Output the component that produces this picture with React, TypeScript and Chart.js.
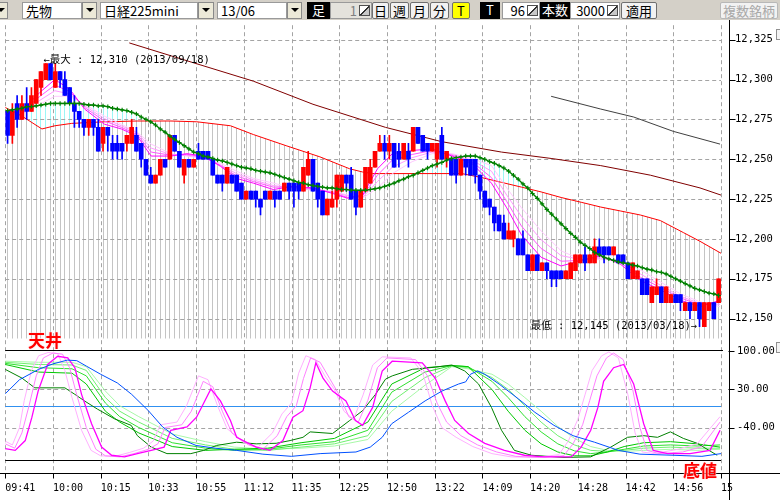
import React, { useEffect, useRef } from "react";
import { Chart, registerables } from "chart.js";

Chart.register(...registerables);

// ---------------- data ----------------
const timeLabels = ["09:41", "10:00", "10:15", "10:33", "10:55", "11:12", "11:35", "12:25", "12:50", "13:22", "14:09", "14:20", "14:28", "14:42", "14:56", "15"];
const tickBars = [0, 10, 20, 30, 40, 50, 60, 70, 80, 90, 100, 110, 120, 130, 140, 150];
const priceTicks = [12150, 12175, 12200, 12225, 12250, 12275, 12300, 12325];
const oscTicks = [100, 30, -40];
const oscGrid = [30, -40];
const priceMin = 12053.1;
const priceMax = 12334.12;
const oscMin = -123.64;
const oscMax = 700;
const hatchFloor = 12137.5;
const oscTop = 100;
const oscBottom = -100;

const maxBar = 8;
const maxPrice = 12310;
const maxText = "←最大 : 12,310 (2013/09/18)";
const minBar = 145;
const minPrice = 12145;
const minText = "最低 : 12,145 (2013/03/18)→";

const opens = [
  12280, 12265, 12285, 12275, 12285, 12280, 12285, 12295, 12300, 12310,
  12295, 12305, 12300, 12295, 12285, 12280, 12275, 12270, 12275, 12270,
  12260, 12270, 12260, 12260, 12260, 12260, 12260, 12265, 12260, 12250,
  12240, 12235, 12240, 12250, 12250, 12265, 12255, 12240, 12250, 12245,
  12255, 12255, 12255, 12250, 12240, 12240, 12235, 12240, 12240, 12235,
  12225, 12230, 12230, 12225, 12230, 12225, 12230, 12230, 12230, 12235,
  12235, 12235, 12230, 12240, 12250, 12235, 12230, 12215, 12220, 12225,
  12230, 12240, 12240, 12230, 12220, 12230, 12235, 12245, 12255, 12260,
  12255, 12260, 12255, 12250, 12255, 12255, 12270, 12265, 12260, 12255,
  12250, 12265, 12250, 12250, 12250, 12240, 12250, 12250, 12250, 12240,
  12230, 12225, 12220, 12215, 12210, 12200, 12200, 12200, 12200, 12190,
  12180, 12190, 12180, 12185, 12180, 12180, 12180, 12175, 12175, 12180,
  12185, 12190, 12185, 12185, 12195, 12195, 12195, 12190, 12190, 12190,
  12185, 12175, 12175, 12175, 12175, 12160, 12165, 12170, 12160, 12160,
  12165, 12165, 12155, 12160, 12155, 12160, 12145, 12155, 12160, 12160,
];
const highs = [
  12280, 12285, 12290, 12290, 12295, 12295, 12300, 12305, 12310, 12310,
  12310, 12305, 12305, 12295, 12290, 12280, 12275, 12275, 12275, 12275,
  12270, 12270, 12265, 12265, 12260, 12265, 12275, 12270, 12260, 12250,
  12245, 12240, 12250, 12250, 12265, 12265, 12255, 12250, 12250, 12250,
  12260, 12255, 12255, 12250, 12240, 12240, 12245, 12240, 12240, 12235,
  12230, 12230, 12230, 12225, 12230, 12230, 12230, 12230, 12235, 12235,
  12235, 12235, 12245, 12255, 12250, 12235, 12230, 12225, 12230, 12240,
  12240, 12240, 12245, 12230, 12230, 12245, 12250, 12255, 12265, 12265,
  12265, 12260, 12260, 12260, 12260, 12270, 12270, 12265, 12260, 12260,
  12260, 12270, 12255, 12250, 12250, 12250, 12250, 12250, 12250, 12240,
  12230, 12225, 12220, 12215, 12215, 12210, 12205, 12200, 12205, 12190,
  12190, 12190, 12185, 12185, 12180, 12180, 12180, 12180, 12185, 12190,
  12190, 12195, 12190, 12200, 12200, 12195, 12195, 12195, 12190, 12190,
  12185, 12185, 12180, 12175, 12175, 12170, 12175, 12170, 12170, 12165,
  12165, 12165, 12160, 12160, 12160, 12160, 12160, 12160, 12160, 12175,
];
const lows = [
  12260, 12260, 12270, 12275, 12275, 12280, 12285, 12290, 12300, 12300,
  12295, 12295, 12290, 12285, 12270, 12270, 12265, 12265, 12265, 12255,
  12255, 12255, 12250, 12250, 12250, 12255, 12260, 12255, 12245, 12240,
  12235, 12235, 12240, 12245, 12250, 12255, 12245, 12235, 12245, 12245,
  12250, 12250, 12250, 12240, 12235, 12230, 12235, 12235, 12230, 12225,
  12225, 12225, 12220, 12215, 12225, 12225, 12220, 12225, 12230, 12225,
  12220, 12225, 12230, 12240, 12230, 12220, 12215, 12215, 12220, 12220,
  12230, 12230, 12225, 12215, 12220, 12230, 12235, 12245, 12255, 12250,
  12250, 12245, 12245, 12250, 12245, 12255, 12260, 12255, 12250, 12255,
  12245, 12250, 12245, 12240, 12235, 12240, 12240, 12240, 12235, 12225,
  12220, 12215, 12205, 12205, 12200, 12200, 12195, 12190, 12190, 12180,
  12180, 12180, 12180, 12175, 12170, 12170, 12175, 12175, 12175, 12180,
  12185, 12180, 12185, 12185, 12190, 12185, 12190, 12190, 12185, 12185,
  12175, 12175, 12175, 12165, 12165, 12160, 12165, 12160, 12160, 12160,
  12160, 12155, 12155, 12150, 12155, 12145, 12145, 12155, 12150, 12160,
];
const closes = [
  12265, 12280, 12275, 12285, 12280, 12290, 12300, 12305, 12310, 12300,
  12305, 12300, 12290, 12285, 12280, 12275, 12270, 12275, 12270, 12255,
  12270, 12265, 12255, 12255, 12255, 12265, 12270, 12255, 12250, 12240,
  12235, 12240, 12250, 12245, 12265, 12255, 12245, 12250, 12245, 12250,
  12250, 12250, 12250, 12240, 12235, 12235, 12245, 12235, 12230, 12225,
  12230, 12225, 12225, 12220, 12225, 12230, 12225, 12225, 12235, 12230,
  12230, 12230, 12245, 12250, 12230, 12225, 12215, 12225, 12225, 12240,
  12240, 12235, 12225, 12220, 12230, 12245, 12245, 12255, 12260, 12255,
  12260, 12245, 12250, 12260, 12250, 12270, 12260, 12255, 12255, 12260,
  12260, 12250, 12255, 12240, 12240, 12250, 12245, 12240, 12240, 12230,
  12220, 12220, 12210, 12205, 12200, 12205, 12205, 12190, 12190, 12180,
  12190, 12180, 12185, 12180, 12175, 12175, 12175, 12180, 12185, 12190,
  12190, 12185, 12190, 12195, 12190, 12190, 12190, 12195, 12185, 12185,
  12175, 12185, 12180, 12165, 12165, 12170, 12170, 12160, 12170, 12165,
  12160, 12160, 12160, 12155, 12160, 12150, 12160, 12160, 12150, 12175,
];

// medium moving average (green, "+" marks), one value per bar
const greenMA = [
  12280.5, 12281, 12281.5, 12282, 12283, 12283, 12283.5, 12284, 12284.5, 12285,
  12285, 12285, 12285, 12285, 12285, 12285, 12284.5, 12284, 12284, 12283.5,
  12283.5, 12283, 12282, 12281.5, 12281, 12280.5, 12279.5, 12278.5, 12276.5, 12275,
  12273.5, 12271.5, 12269, 12267, 12264.5, 12262.5, 12260.5, 12258.5, 12256.5, 12254.5,
  12253.5, 12252, 12251.5, 12250.5, 12249.5, 12249, 12248, 12247, 12246, 12245,
  12244.5, 12244, 12243, 12242.5, 12242, 12241.5, 12240.5, 12239.5, 12238.5, 12237.5,
  12236.5, 12235.5, 12235, 12234, 12233.5, 12233, 12232.5, 12232, 12232, 12231.5,
  12231, 12231, 12230.5, 12230.5, 12230.5, 12230.5, 12231, 12231.5, 12232, 12233,
  12234, 12235, 12236.5, 12237.5, 12239, 12240, 12241.5, 12243, 12244.5, 12246,
  12247, 12248, 12249.5, 12250.5, 12251, 12251.5, 12252, 12252, 12252, 12251,
  12250, 12248.5, 12247.5, 12246, 12244.5, 12242.5, 12240, 12237.5, 12234.5, 12232,
  12228.5, 12225.5, 12222, 12218.5, 12215.5, 12212.5, 12209.5, 12206.5, 12203.5, 12201,
  12198, 12196, 12194, 12191.5, 12190, 12188.5, 12187.5, 12186.5, 12185.5, 12185,
  12184.5, 12183.5, 12183, 12182, 12181, 12180.5, 12179.5, 12179, 12178, 12176.5,
  12175, 12173.5, 12172, 12170.5, 12169, 12168, 12167, 12166, 12165.5, 12164.5,
];

// longer moving average (red)
const redX = [0, 3.54, 7.7, 10.4, 13.94, 20.8, 27.67, 34.74, 40.15, 47.22, 52, 58.87, 65.95, 72.19, 74.89, 76.97, 95.69, 99.85, 104, 108.2, 112.3, 116.5, 120.7, 124.8, 129, 133.1, 137.3, 142.1, 145.6, 150];
const redMA = [12282.5, 12277, 12269, 12271, 12272.5, 12273.5, 12274, 12274, 12273.5, 12271, 12265.5, 12258.5, 12251.5, 12244, 12242, 12241, 12241, 12238.5, 12235.5, 12232.5, 12229.5, 12226, 12223, 12220, 12217.5, 12215, 12211.5, 12204, 12198.5, 12191];

// very long averages (maroon, dark grey)
const maroonX = [26, 39.5, 52, 64.5, 79.7, 91.5, 104, 114.4, 124.8, 135.2, 145.6, 150];
const maroonMA = [12323, 12310.5, 12299, 12284.5, 12270, 12261, 12254.5, 12250.5, 12246, 12240, 12232, 12227.5];
const greyX = [114.4, 124.8, 131.7, 140, 149.8];
const greyMA = [12289.5, 12281.5, 12276.5, 12267.5, 12259.5];

// short averages (pink fan, fastest first)
const fanX = [0, 4.16, 7.28, 10.4, 13.52, 16.64, 20.8, 24.34, 27.67, 30.58, 34.74, 38.07, 41.61, 45.14, 48.47, 52.01, 56.17, 60.33, 64.49, 68.65, 71.77, 74.89, 78.01, 81.13, 85.29, 89.45, 93.61, 97.77, 101.9, 105.1, 108.2, 112.3, 116.5, 120.7, 124.8, 129, 133.1, 137.3, 141.5, 145.6, 149.8];
const fan1 = [12278.5, 12282.5, 12292, 12300, 12294, 12281.5, 12272, 12269, 12264.5, 12252, 12252, 12253.5, 12252, 12245.5, 12238, 12235, 12231, 12233, 12232, 12228.5, 12225.5, 12227.5, 12244, 12253.5, 12255.5, 12256.5, 12252, 12247.5, 12235, 12219.5, 12202.5, 12188.5, 12183, 12186.5, 12189.5, 12184, 12174, 12168, 12161.5, 12157.5, 12161.5];
const fan2 = [12278, 12281.5, 12289.5, 12296.5, 12292.5, 12282.5, 12274, 12270, 12265.5, 12254.5, 12252.5, 12253, 12251.5, 12246, 12239.5, 12236, 12232.5, 12232.5, 12231.5, 12229, 12226, 12227, 12240, 12249.5, 12253, 12255.5, 12252.5, 12248.5, 12238.5, 12223.5, 12208, 12194, 12186, 12186.5, 12189, 12185, 12176, 12169.5, 12163, 12158.5, 12160.5];
const fan3 = [12277.5, 12280.5, 12287, 12293, 12291, 12283.5, 12275.5, 12271, 12266.5, 12257, 12253, 12252.5, 12251, 12246.5, 12241, 12237, 12233.5, 12232, 12231, 12229.5, 12227, 12226, 12236, 12245, 12251, 12254.5, 12253, 12249.5, 12242.5, 12227.5, 12214, 12199.5, 12189.5, 12187, 12188, 12186, 12178, 12171, 12164, 12159.5, 12159];
const fan4 = [12277, 12279.5, 12284.5, 12289.5, 12289.5, 12284.5, 12277, 12272, 12267, 12259.5, 12253.5, 12252, 12250.5, 12247.5, 12242.5, 12238, 12235, 12232, 12230.5, 12230, 12227.5, 12225.5, 12232, 12241, 12248.5, 12253.5, 12253.5, 12250.5, 12246, 12232, 12219.5, 12205, 12192.5, 12187, 12187, 12187, 12180.5, 12173, 12165.5, 12160.5, 12157.5];

// oscillator panel: [bar, value]
const oscBlue = [[0, 22], [3, 48], [7, 67], [10, 77], [13, 84], [15, 83], [17, 73], [20, 58], [23.5, 42], [26.5, 21], [30, -9], [33, -39], [36, -58], [40, -73], [44, -78], [48.5, -82], [54, -89], [60, -93], [66, -88], [73.5, -85], [76.5, -76], [79, -58], [81, -33], [84.5, -12], [88, 9], [91.5, 27], [95, 40], [96.5, 44], [97.5, 58], [99, 64], [100.5, 58], [103.5, 40], [107.5, 13], [111, -12], [115, -36], [119, -55], [123.5, -67], [128.5, -82], [133, -89], [140, -91], [146, -93], [150, -88]];
const oscMagenta = [[0, -79], [2.1, -82], [4.2, -64], [5.6, -21], [6.9, 27], [8.9, 76], [11, 91], [13.1, 88], [14.6, 70], [16, 21], [18.1, -33], [20.2, -76], [22.3, -91], [25, -94], [27.7, -88], [30.6, -82], [33.3, -76], [34.7, -45], [38.1, -39], [40.1, -21], [43.1, 31], [45.1, 9], [47.2, -27], [48.5, -58], [52.6, -76], [55.5, -82], [58.2, -64], [60.3, -21], [62.4, -9], [63.9, 33], [65.1, 79], [66.6, 51], [68.6, 27], [71.4, 9], [73.4, -27], [74.9, -36], [77, -3], [79, 64], [81.1, 82], [87.4, 79], [90.1, 51], [92.2, 9], [94.2, -27], [97.1, -51], [100.5, -69], [104.6, -82], [108.8, -91], [113, -94], [118.6, -94], [120.7, -76], [122.7, -45], [124.2, -3], [125.4, 45], [127.5, 70], [129.6, 76], [131.7, 40], [133.8, -33], [135.8, -82], [138.8, -88], [143.5, -88], [147.7, -82], [149.8, -45]];
const oscPinkA = [[0, -70], [2, -78], [3.5, -50], [5, 0], [6.5, 55], [8, 88], [10, 97], [12, 95], [13.5, 70], [15, 20], [17, -40], [19, -80], [21, -92], [24, -94], [27, -88], [30, -80], [32, -70], [33.5, -40], [37, -35], [39, -10], [41.5, 45], [43.5, 35], [45.5, -10], [47.5, -50], [51, -72], [54, -80], [57, -55], [59, -20], [61, 0], [62.5, 50], [64, 88], [66, 80], [68, 50], [70, 20], [72, -20], [74, -30], [76, 10], [78, 70], [80, 88], [86, 85], [88.5, 55], [90.5, 5], [92.5, -30], [95.5, -55], [99, -72], [103, -85], [107, -93], [112, -95], [117, -92], [119, -70], [121, -35], [122.5, 10], [124, 55], [126, 88], [127.5, 97], [129.5, 85], [131.5, 30], [133, -40], [134.5, -82], [137, -88], [142, -85], [146, -75], [149.8, -30]];
const oscPinkB = [[0, -65], [1.5, -72], [3, -40], [4, 10], [5.5, 65], [7, 92], [9, 98], [11, 96], [12.5, 65], [14, 15], [16, -45], [18, -82], [20, -92], [23, -93], [26, -86], [29, -78], [31, -65], [32.5, -35], [36, -30], [38, 0], [40.5, 55], [42.5, 48], [44.5, 0], [46.5, -42], [50, -68], [53, -76], [56, -50], [58, -15], [60, 5], [61.5, 60], [63, 92], [65, 85], [67, 55], [69, 30], [71, -10], [73, -25], [75, 20], [77, 75], [79, 90], [85, 88], [87.5, 60], [89.5, 0], [91.5, -40], [94.5, -58], [98, -75], [102, -88], [106, -94], [111, -95], [116, -90], [118, -65], [120, -25], [121.5, 20], [123, 65], [125, 92], [126.5, 99], [128.5, 88], [130.5, 20], [132, -50], [133.5, -85], [136, -88], [141, -80], [145, -70], [149.8, -20]];
const oscDarkGreen = [[0, 67], [3.5, 51], [6.2, 33], [12.5, 33], [14.6, 21], [16.6, 9], [19.3, -6], [22.9, -24], [26.4, -36], [27.7, -55], [30.6, -76], [33.9, -88], [38.9, -88], [41.6, -82], [44.3, -73], [48.5, -67], [52.6, -70], [56.8, -69], [59.7, -64], [62.4, -58], [63.9, -48], [68.6, -51], [72.2, -27], [74.9, -9], [77.6, 21], [79.7, 49], [81.1, 55], [85.3, 67], [90.1, 71], [93.6, 75], [96.3, 64], [99.2, 40], [101.9, -3], [104, -45], [106.7, -82], [110.3, -91], [117.1, -95], [122.7, -94], [126.9, -76], [130.4, -58], [133.8, -55], [136.7, -58], [139.4, -48], [142.1, -60], [145, -69], [149.2, -91]];
const greenX = [0, 7, 14, 17, 21, 24, 28, 35, 42, 48, 55, 62, 69, 76, 81, 88, 93.6, 97, 102, 105.4, 108.9, 112.3, 115.8, 119.3, 122.7, 126.2, 129.7, 133.8, 139.4, 145, 149.8];
const oscG1 = [76, 62, 60, 40, -10, -30, -50, -75, -82, -80, -78, -68, -60, -30, 40, 70, 74, 72, 30, -10, -45, -70, -85, -92, -92, -85, -75, -68, -66, -70, -76];
const oscG2 = [78, 70, 68, 55, 5, -20, -40, -68, -78, -82, -80, -72, -66, -45, 25, 62, 74, 72, 45, 15, -20, -48, -70, -83, -88, -85, -80, -74, -72, -74, -72];
const oscG3 = [80, 76, 75, 65, 15, -10, -30, -60, -72, -80, -82, -76, -70, -55, 8, 52, 73, 70, 52, 30, 0, -30, -55, -72, -82, -84, -82, -78, -76, -78, -78];
const oscG4 = [82, 80, 80, 72, 27, 0, -20, -52, -66, -76, -80, -78, -74, -62, -10, 38, 72, 68, 58, 40, 15, -10, -38, -60, -75, -82, -84, -82, -80, -82, -80];

// ---------------- styling ----------------
const MONO = '"DejaVu Sans Mono", "Noto Sans CJK JP", monospace';
const JP = '"Noto Sans CJK JP", "Noto Sans CJK SC", sans-serif';
const UP = "#ff0000";
const DOWN = "#0000ff";

const zeroPad = (s: any) => {
  s.paddingTop = 0;
  s.paddingBottom = 0;
  s.paddingLeft = 0;
  s.paddingRight = 0;
};

const decor = {
  id: "decor",
  beforeDatasetsDraw(chart: any) {
    const { ctx, chartArea: a, scales } = chart;
    const { x, y, y2 } = scales;
    ctx.save();
    ctx.lineWidth = 1;
    ctx.strokeStyle = "#a4a4a4";
    ctx.setLineDash([4, 3]);
    ctx.beginPath();
    for (const v of priceTicks) {
      const py = Math.round(y.getPixelForValue(v)) + 0.5;
      ctx.moveTo(a.left, py);
      ctx.lineTo(a.right, py);
    }
    for (const v of oscGrid) {
      const py = Math.round(y2.getPixelForValue(v)) + 0.5;
      ctx.moveTo(a.left, py);
      ctx.lineTo(a.right, py);
    }
    for (const t of tickBars) {
      const px = Math.round(x.getPixelForValue(t)) + 0.5;
      ctx.moveTo(px, a.top);
      ctx.lineTo(px, a.bottom);
    }
    ctx.stroke();
    ctx.setLineDash([]);
    ctx.strokeStyle = "#3090f0";
    const zy = Math.round(y2.getPixelForValue(0)) + 0.5;
    ctx.beginPath();
    ctx.moveTo(a.left, zy);
    ctx.lineTo(a.right, zy);
    ctx.stroke();
    ctx.restore();
  },
  afterDatasetsDraw(chart: any) {
    const { ctx, chartArea: a, scales } = chart;
    const { x, y, y2 } = scales;
    ctx.save();
    ctx.strokeStyle = "#000";
    ctx.lineWidth = 1;
    const axisX = Math.round(a.right) + 8.5;
    const t100 = Math.round(y2.getPixelForValue(oscTop)) - 0.5;
    const b100 = Math.round(y2.getPixelForValue(oscBottom)) + 0.5;
    const xb = Math.round(a.bottom) + 0.5;
    ctx.beginPath();
    ctx.moveTo(a.left, t100);
    ctx.lineTo(a.right + 2, t100);
    ctx.moveTo(a.left, b100);
    ctx.lineTo(a.right, b100);
    ctx.moveTo(0, xb);
    ctx.lineTo(chart.width, xb);
    ctx.moveTo(axisX, 0);
    ctx.lineTo(axisX, chart.height);
    for (const v of priceTicks) {
      const py = Math.round(y.getPixelForValue(v)) + 0.5;
      ctx.moveTo(axisX, py);
      ctx.lineTo(axisX + 6, py);
    }
    for (const v of oscTicks) {
      const py = Math.round(y2.getPixelForValue(v)) + 0.5;
      ctx.moveTo(axisX - 1, py);
      ctx.lineTo(axisX + 5, py);
    }
    for (const t of tickBars) {
      const px = Math.round(x.getPixelForValue(t)) + 0.5;
      ctx.moveTo(px, xb);
      ctx.lineTo(px, xb + 5);
    }
    ctx.stroke();

    ctx.fillStyle = "#000";
    ctx.font = "10.5px " + MONO;
    ctx.textBaseline = "middle";
    // oscillator axis labels
    ctx.textAlign = "left";
    for (const v of oscTicks) {
      ctx.fillText(v.toFixed(2), axisX + 7.5, y2.getPixelForValue(v));
    }
    // high / low annotations
    ctx.fillText(maxText, x.getPixelForValue(maxBar), y.getPixelForValue(maxPrice) - 3);
    ctx.textAlign = "right";
    ctx.fillText(minText, x.getPixelForValue(minBar), y.getPixelForValue(minPrice));
    ctx.restore();
  },
};

function Toolbar() {
  const base: React.CSSProperties = {
    position: "absolute",
    top: 2,
    height: 17,
    boxSizing: "border-box",
    fontFamily: JP,
    fontSize: 13,
    lineHeight: "15px",
    whiteSpace: "nowrap",
    overflow: "hidden",
    color: "#000",
  };
  const tri = (
    <div style={{ width: 0, height: 0, borderLeft: "4px solid transparent", borderRight: "4px solid transparent", borderTop: "4px solid #000", margin: "5px auto 0" }} />
  );
  const icon: React.CSSProperties = {
    position: "absolute",
    right: 1,
    top: 2,
    width: 11,
    height: 11,
    boxSizing: "border-box",
    border: "1px solid #505050",
    background: "linear-gradient(to bottom right, #ffffff 0%, #ffffff 46%, #303030 46%, #303030 56%, #c8c8c8 56%)",
  };
  const field = (left: number, width: number, text: string) => (
    <div style={{ ...base, left, width, background: "#fff", border: "1px solid #9a9a9a", paddingLeft: 3 }}>{text}</div>
  );
  const drop = (left: number, width: number) => (
    <div style={{ ...base, left, width, background: "#ece9d8", border: "1px solid #8a8a8a" }}>{tri}</div>
  );
  const black = (left: number, width: number, text: string) => (
    <div style={{ ...base, left, width, background: "#000", color: "#fff", textAlign: "center" }}>{text}</div>
  );
  const btn = (left: number, width: number, text: string, extra: React.CSSProperties = {}) => (
    <div style={{ ...base, left, width, background: "#f2f2f2", border: "1px solid #6f6f6f", borderRadius: 2, textAlign: "center", ...extra }}>{text}</div>
  );
  const spin = (left: number, width: number, text: string, bg: string, color: string) => (
    <div style={{ ...base, left, width, background: bg, color, border: "1px solid #9a9a9a", textAlign: "right", paddingRight: 14 }}>
      {text}
      <div style={icon} />
    </div>
  );
  return (
    <div style={{ position: "absolute", left: 0, top: 0, width: 780, height: 20, background: "#d4d0c8" }}>
      {drop(-6, 14)}
      {field(22, 60, "先物")}
      {drop(82, 15)}
      {field(100, 98, "日経225mini")}
      {drop(198, 16)}
      {field(217, 70, "13/06")}
      {drop(287, 15)}
      {black(307, 23, "足")}
      {spin(330, 42, "1", "#e4e2dc", "#808080")}
      {btn(372, 17, "日")}
      {btn(390, 19, "週")}
      {btn(410, 19, "月")}
      {btn(430, 19, "分")}
      {btn(452, 18, "T", { background: "#ffff00" })}
      {black(480, 20, "T")}
      {spin(502, 38, "96", "#fff", "#000")}
      {black(540, 30, "本数")}
      {spin(570, 50, "3000", "#fff", "#000")}
      {btn(621, 36, "適用")}
      {btn(720, 58, "複数銘柄", { color: "#a8a8a8", border: "1px solid #b8b8b8" })}
    </div>
  );
}

const markStyle = (left: number, top: number): React.CSSProperties => ({
  position: "absolute",
  left,
  top,
  fontFamily: JP,
  fontWeight: 700,
  fontSize: 17,
  lineHeight: "17px",
  color: "#ff0000",
  textShadow: "0 0 2px #ffd0d0, 0 0 1px #ffffff",
  whiteSpace: "nowrap",
});

export default function App() {
  const ref = useRef<HTMLCanvasElement | null>(null);

  useEffect(() => {
    const canvas = ref.current;
    if (!canvas) return;
    const center = (i: number) => i + 0.5;
    const barColors = closes.map((c, i) => (c >= opens[i] ? UP : DOWN));
    const xy = (xs: number[], ys: number[]) => xs.map((xv, i) => ({ x: xv, y: ys[i] }));
    const pr = (arr: number[][]) => arr.map(([xv, yv]) => ({ x: xv, y: yv }));
    const line = (data: any[], color: string, order: number, extra: any = {}) => ({
      type: "line",
      data,
      borderColor: color,
      backgroundColor: color,
      borderWidth: 1,
      pointRadius: 0,
      tension: 0,
      fill: false,
      order,
      yAxisID: "y",
      ...extra,
    });

    const datasets: any[] = [
      line(xy(redX, redMA), "#ff0000", 9, { fill: { value: hatchFloor }, backgroundColor: "rgba(0,0,0,0)" }),
      line(greenMA.map((v, i) => ({ x: center(i), y: v })), "#008000", 3, {
        borderWidth: 1.4,
        pointRadius: 2.2,
        pointStyle: "cross",
        pointBorderColor: "#008000",
        pointBorderWidth: 1.2,
      }),
      line(xy(maroonX, maroonMA), "#800000", 8),
      line(xy(greyX, greyMA), "#404040", 8),
      line(xy(fanX, fan4), "#ffc8ff", 7.4),
      line(xy(fanX, fan3), "#ff99ff", 7.3),
      line(xy(fanX, fan2), "#ff55ff", 7.2),
      line(xy(fanX, fan1), "#ff00ff", 7.1),
      {
        type: "bar",
        data: lows.map((l, i) => ({ x: center(i), y: [l, highs[i]] })),
        backgroundColor: barColors,
        borderWidth: 0,
        barThickness: 1,
        grouped: false,
        order: 5,
        yAxisID: "y",
      },
      {
        type: "bar",
        data: opens.map((o, i) => ({ x: center(i), y: [o, closes[i]] })),
        backgroundColor: barColors,
        borderWidth: 0,
        barThickness: 4,
        grouped: false,
        order: 4,
        yAxisID: "y",
      },
      line(xy(greenX, oscG4), "#a8f8a8", 30, { yAxisID: "y2" }),
      line(xy(greenX, oscG3), "#70f070", 29, { yAxisID: "y2" }),
      line(xy(greenX, oscG2), "#30e030", 28, { yAxisID: "y2" }),
      line(xy(greenX, oscG1), "#00c800", 27, { yAxisID: "y2" }),
      line(pr(oscDarkGreen), "#008000", 26, { yAxisID: "y2" }),
      line(pr(oscPinkB), "#ffb0ff", 25, { yAxisID: "y2" }),
      line(pr(oscPinkA), "#ff80ff", 24, { yAxisID: "y2" }),
      line(pr(oscMagenta), "#ff00ff", 23, { yAxisID: "y2", borderWidth: 1.3 }),
      line(pr(oscBlue), "#0050ff", 22, { yAxisID: "y2" }),
    ];

    const chart: any = new Chart(canvas, {
      type: "line",
      data: { datasets },
      options: {
        animation: false,
        responsive: false,
        maintainAspectRatio: false,
        events: [],
        layout: { padding: 0 },
        plugins: {
          legend: { display: false },
          tooltip: { enabled: false },
          filler: { drawTime: "beforeDatasetsDraw", propagate: false },
        },
        scales: {
          x: {
            type: "linear",
            min: 0,
            max: 150,
            position: "bottom",
            offset: false,
            grid: { display: false, drawTicks: false },
            border: { display: false },
            afterBuildTicks: (s: any) => {
              s.ticks = tickBars.map((v) => ({ value: v }));
            },
            afterFit: (s: any) => {
              s.height = 27;
              zeroPad(s);
            },
            ticks: {
              autoSkip: false,
              maxRotation: 0,
              minRotation: 0,
              align: "start",
              padding: 9,
              color: "#000",
              font: { family: MONO, size: 10 },
              callback: (_v: any, i: number) => timeLabels[i],
            },
          },
          y2: {
            type: "linear",
            position: "right",
            weight: 0,
            min: oscMin,
            max: oscMax,
            grid: { display: false, drawTicks: false },
            border: { display: false },
            afterBuildTicks: (s: any) => {
              s.ticks = oscTicks.map((v) => ({ value: v }));
            },
            afterFit: (s: any) => {
              s.width = 0;
              zeroPad(s);
            },
            ticks: { display: false },
          },
          y: {
            type: "linear",
            position: "right",
            weight: 1,
            min: priceMin,
            max: priceMax,
            grid: { display: false, drawTicks: false },
            border: { display: false },
            afterBuildTicks: (s: any) => {
              s.ticks = priceTicks.map((v) => ({ value: v }));
            },
            afterFit: (s: any) => {
              s.width = 59;
              zeroPad(s);
            },
            ticks: {
              autoSkip: false,
              padding: 14,
              color: "#000",
              font: { family: MONO, size: 10.5 },
              callback: (v: any) => Number(v).toLocaleString("en-US"),
            },
          },
        },
      },
      plugins: [decor],
    } as any);

    // vertical hatching, one line per bar, aligned through the x scale
    const xs = chart.scales.x;
    const hatch = (color: string) => {
      const c = document.createElement("canvas");
      c.width = Math.ceil(chart.width);
      c.height = 2;
      const g = c.getContext("2d")!;
      g.fillStyle = color;
      for (let i = 0; i < closes.length; i++) {
        g.fillRect(Math.floor(xs.getPixelForValue(center(i))), 0, 1, 2);
      }
      return chart.ctx.createPattern(c, "repeat");
    };
    chart.data.datasets[0].backgroundColor = hatch("#c4c4c4");
    chart.data.datasets[1].fill = { target: 0, above: hatch("#9cf6f6"), below: "rgba(0,0,0,0)" };
    chart.update("none");

    return () => chart.destroy();
  }, []);

  return (
    <div style={{ position: "absolute", left: 0, top: 0, width: 780, height: 500, background: "#fff", overflow: "hidden" }}>
      <Toolbar />
      <canvas ref={ref} width={780} height={480} style={{ position: "absolute", left: 0, top: 20, width: 780, height: 480 }} />
      <div style={markStyle(28, 331)}>天井</div>
      <div style={markStyle(683, 461)}>底値</div>
      <div style={{ position: "absolute", left: 776, top: 29, width: 9, height: 9, border: "1px solid #909090", background: "#f4f4f4" }} />
      <div style={{ position: "absolute", left: 776, top: 342, width: 9, height: 9, border: "1px solid #909090", background: "#f4f4f4" }} />
    </div>
  );
}
